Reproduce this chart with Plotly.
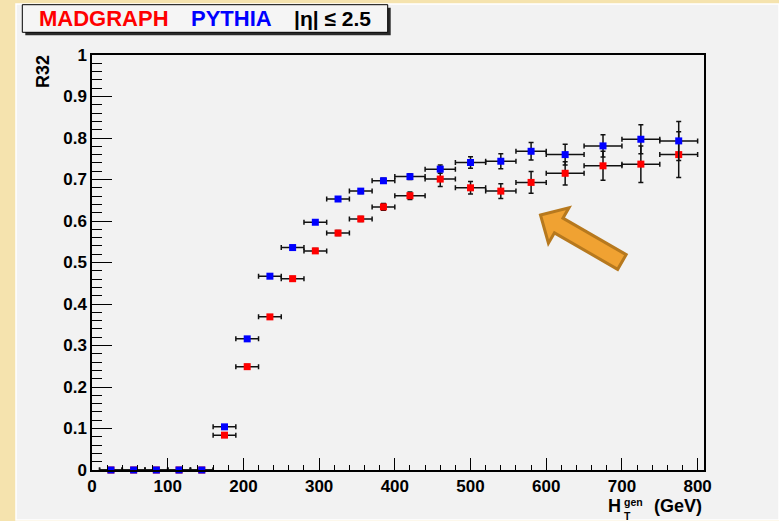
import math
import plotly.graph_objects as go

# ---------------- data ----------------
ht_center = [25, 55, 85, 115, 145, 175, 205, 235, 265, 295, 325, 355, 385,
             420, 460, 500, 540, 580, 625, 675, 725, 775]
ht_halfwidth = [15, 15, 15, 15, 15, 15, 15, 15, 15, 15, 15, 15, 15,
                20, 20, 20, 20, 20, 25, 25, 25, 25]
madgraph_r32 = [0, 0, 0, 0, 0, 0.084, 0.249, 0.369, 0.461, 0.528, 0.571, 0.605, 0.634,
                0.661, 0.701, 0.680, 0.672, 0.693, 0.715, 0.733, 0.737, 0.760]
madgraph_err = [0, 0, 0, 0, 0, 0.004, 0.005, 0.005, 0.005, 0.006, 0.006, 0.006, 0.008,
                0.009, 0.018, 0.015, 0.018, 0.026, 0.028, 0.035, 0.044, 0.055]
pythia_r32 = [0, 0, 0, 0, 0, 0.104, 0.316, 0.467, 0.536, 0.597, 0.653, 0.672, 0.697,
              0.707, 0.725, 0.741, 0.744, 0.768, 0.760, 0.781, 0.797, 0.793]
pythia_err = [0, 0, 0, 0, 0, 0.004, 0.004, 0.004, 0.005, 0.005, 0.005, 0.006, 0.006,
              0.007, 0.010, 0.014, 0.018, 0.021, 0.025, 0.027, 0.035, 0.047]
x_tick_vals = [0, 100, 200, 300, 400, 500, 600, 700, 800]
y_tick_vals = [0, 0.1, 0.2, 0.3, 0.4, 0.5, 0.6, 0.7, 0.8, 0.9, 1]

# ---------------- layout geometry ----------------
W, H = 779, 521
ML, MR, MT, MB = 92, 75, 55, 51
PW, PH = W - ML - MR, H - MT - MB

def px(x):
    return (x - ML) / PW

def py(y):
    return (H - MB - y) / PH

FONT = "Liberation Sans, Arial, sans-serif"

fig = go.Figure()

for name, yv, ev, col in [("MADGRAPH", madgraph_r32, madgraph_err, "#ff0000"),
                          ("PYTHIA", pythia_r32, pythia_err, "#0000ff")]:
    fig.add_trace(go.Scatter(
        x=ht_center, y=yv, mode="markers", name=name,
        marker=dict(symbol="square", size=7, color=col, line=dict(width=0)),
        error_x=dict(type="data", array=ht_halfwidth, color="#111111", thickness=1.5, width=2.5),
        error_y=dict(type="data", array=ev, color="#111111", thickness=1.5, width=2.5),
        cliponaxis=False, showlegend=False,
    ))

shapes = []
# canvas
shapes.append(dict(type="rect", xref="paper", yref="paper", layer="below",
                   x0=px(16), x1=px(779), y0=py(520), y1=py(4),
                   fillcolor="#f2f2f2", line=dict(color="#ffffff", width=1.5)))
# title box shadow and box
shapes.append(dict(type="rect", xref="paper", yref="paper", layer="above",
                   x0=px(25.3), x1=px(390.7), y0=py(35.3), y1=py(7.7),
                   fillcolor="#2a2a2a", line=dict(width=0)))
shapes.append(dict(type="rect", xref="paper", yref="paper", layer="above",
                   x0=px(22.3), x1=px(387.7), y0=py(32.3), y1=py(4.7),
                   fillcolor="#f5f5f5", line=dict(color="#000000", width=1)))

# orange arrow
tip = (540.5, 215.0)
ang = math.radians(30)
ux, uy = math.cos(ang), math.sin(ang)
vx, vy = -math.sin(ang), math.cos(ang)
local = [(0, 0), (21, -20.5), (21, -8.5), (94, -8.5), (94, 8.5), (21, 8.5), (21, 20.5)]
pts = [(tip[0] + a * ux + b * vx, tip[1] + a * uy + b * vy) for a, b in local]
path = "M " + " L ".join(f"{px(x):.5f},{py(y):.5f}" for x, y in pts) + " Z"
shapes.append(dict(type="path", xref="paper", yref="paper", path=path, layer="above",
                   fillcolor="#f0a232", line=dict(color="#b7791e", width=3)))

annotations = []
def ann(text, x, y, size, color="#000000", xanchor="left", yanchor="middle", angle=0, align="left"):
    annotations.append(dict(text=text, x=px(x), y=py(y), xref="paper", yref="paper",
                            showarrow=False, xanchor=xanchor, yanchor=yanchor, textangle=angle,
                            align=align, borderpad=0,
                            font=dict(family=FONT, size=size, color=color, weight="bold")))

ann("MADGRAPH", 37.5, 18.5, 22, "#ff0000")
ann("PYTHIA", 190, 18.5, 22, "#0000ff")
ann("|η| ≤ 2.5", 293, 18.5, 21, "#000000")
ann("R32", 43, 72, 18, angle=-90, xanchor="center")
ann("H", 622, 506, 18, xanchor="right")
ann("gen<br>T", 623, 508.5, 10.5)
ann("(GeV)", 703, 506, 18, xanchor="right")

fig.update_layout(
    width=W, height=H,
    margin=dict(l=ML, r=MR, t=MT, b=MB, pad=0),
    paper_bgcolor="#f5e3ae",
    plot_bgcolor="rgba(0,0,0,0)",
    shapes=shapes, annotations=annotations,
    xaxis=dict(range=[0, 808.4], tickvals=x_tick_vals, ticks="inside", ticklen=12,
               tickwidth=1, tickcolor="#000", showline=True, linecolor="#000", linewidth=1.5,
               mirror=True, showgrid=False, zeroline=False,
               tickfont=dict(family=FONT, size=17, color="#000", weight="bold"),
               minor=dict(dtick=20, ticks="inside", ticklen=5, tickcolor="#000", showgrid=False)),
    yaxis=dict(range=[0, 1], tickvals=y_tick_vals, ticks="inside", ticklen=20,
               tickwidth=1, tickcolor="#000", showline=True, linecolor="#000", linewidth=1.5,
               mirror=True, showgrid=False, zeroline=False,
               tickfont=dict(family=FONT, size=17, color="#000", weight="bold"),
               minor=dict(dtick=0.02, ticks="inside", ticklen=10, tickcolor="#000", showgrid=False)),
)

fig.write_html("out.html")
